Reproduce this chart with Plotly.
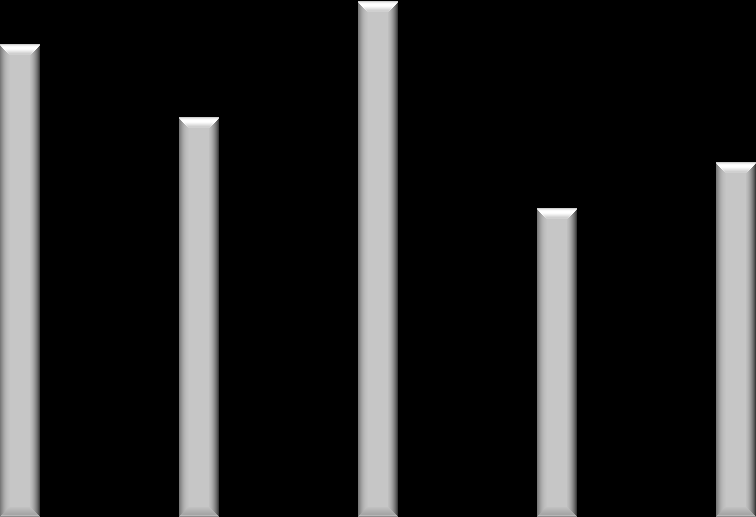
import plotly.graph_objects as go

# Data
categories = [0, 1, 2, 3, 4]
values = [91.3, 77.2, 99.8, 59.6, 68.5]

# Styling (bevel appearance)
W, H = 756, 517
x_min, x_max = -20 / 179, 4 + 20 / 179
y_min, y_max = 0, 100
px_x = (x_max - x_min) / W
px_y = (y_max - y_min) / H
bar_px = 40
n = 10

left_cols = ["#7a7a7a", "#888888", "#949494", "#a0a0a0", "#aaaaaa",
             "#b2b2b2", "#b8b8b8", "#bdbdbd", "#c0c0c0", "#c3c3c3"]
right_cols = ["#3c3c3c", "#555555", "#6a6a6a", "#7c7c7c", "#8c8c8c",
              "#9a9a9a", "#a6a6a6", "#b0b0b0", "#b8b8b8", "#bebebe"]
top_cols = ["#cfcfcf", "#ececec", "#fafafa", "#ffffff", "#ffffff",
            "#fbfbfb", "#f1f1f1", "#e6e6e6", "#dadada", "#d0d0d0"]
bot_cols = ["#8c8c8c", "#b6b6b6", "#a6a6a6", "#a8a8a8", "#acacac",
            "#b0b0b0", "#b4b4b4", "#b8b8b8", "#bcbcbc", "#c0c0c0"]
center_col = "#c6c6c6"

fig = go.Figure()
half = bar_px / 2

def add(y, base, offset_px, width_px, color):
    fig.add_trace(go.Bar(
        x=categories, y=y, base=base,
        offset=offset_px * px_x, width=width_px * px_x,
        marker=dict(color=color, line=dict(width=0)),
        hoverinfo="skip", showlegend=False,
    ))

# side columns
for j in range(n):
    add(values, [0] * len(values), -half + j, half - j, left_cols[j])
    add(values, [0] * len(values), 0, half - j, right_cols[j])
# center
add(values, [0] * len(values), -half + n, bar_px - 2 * n, center_col)
# top and bottom strips (mitered)
for j in range(n):
    add([px_y] * len(values), [v - (j + 1) * px_y for v in values],
        -half + j, bar_px - 2 * j, top_cols[j])
    add([px_y] * len(values), [j * px_y for _ in values],
        -half + j, bar_px - 2 * j, bot_cols[j])

fig.update_layout(
    width=W, height=H,
    margin=dict(l=0, r=0, t=0, b=0),
    paper_bgcolor="#000000", plot_bgcolor="#000000",
    barmode="overlay", bargap=0,
    xaxis=dict(range=[x_min, x_max], visible=False, fixedrange=True),
    yaxis=dict(range=[y_min, y_max], visible=False, fixedrange=True),
)

fig.write_html(
    "out.html",
    config={"displayModeBar": False},
    post_script="document.body.style.margin='0';document.body.style.overflow='hidden';document.body.style.background='#000';",
)
